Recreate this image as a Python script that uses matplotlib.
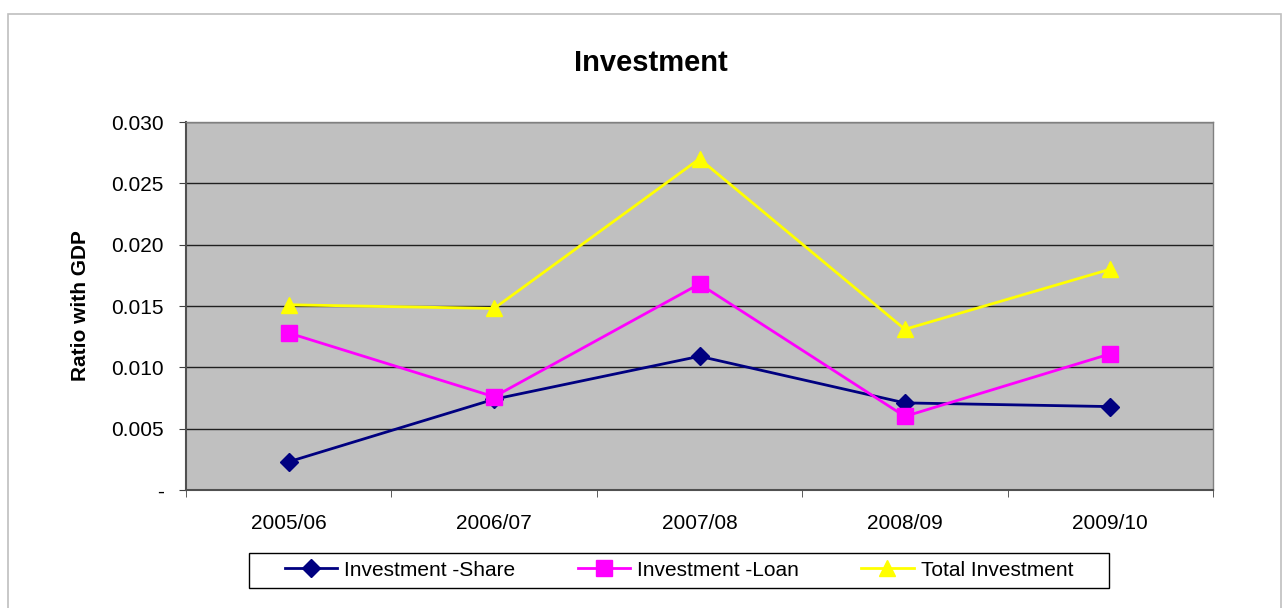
import matplotlib
matplotlib.use("Agg")
import matplotlib.pyplot as plt
from matplotlib.patches import Rectangle
from matplotlib.ticker import FixedLocator, FuncFormatter

categories = ["2005/06", "2006/07", "2007/08", "2008/09", "2009/10"]
share = [0.0023, 0.0074, 0.0109, 0.0071, 0.0068]
loan = [0.0128, 0.0076, 0.0168, 0.0060, 0.0111]
total = [0.0151, 0.0148, 0.0270, 0.0131, 0.0180]

plt.rcParams['font.family'] = ['Liberation Sans', 'DejaVu Sans']

W, H = 1283, 608
fig = plt.figure(figsize=(W/100, H/100), dpi=100)
fig.patches.append(Rectangle((8/W, -0.01), (1281-8)/W, (H-14)/H + 0.01,
                             transform=fig.transFigure, fill=False,
                             edgecolor='#BFBFBF', linewidth=1.2))
ax = fig.add_axes([186/W, 1-490/H, (1213-186)/W, (490-122)/H])
ax.set_facecolor('#C0C0C0')

x = list(range(len(categories)))
ax.plot(x, share, color='#000080', marker='D', markersize=9.5, linewidth=2, label='Investment -Share')
ax.plot(x, loan, color='#FF00FF', marker='s', markersize=11, linewidth=2, label='Investment -Loan')
ax.plot(x, total, color='#FFFF00', marker='^', markersize=12, linewidth=2, label='Total Investment')

ax.set_xlim(-0.5, len(categories) - 0.5)
ax.set_ylim(0, 0.030)
ax.set_yticks([0, 0.005, 0.010, 0.015, 0.020, 0.025, 0.030])
ax.yaxis.set_major_formatter(FuncFormatter(lambda v, p: '-' if abs(v) < 1e-9 else f'{v:.3f}'))
ax.set_xticks(x)
ax.set_xticklabels(categories)
ax.xaxis.set_minor_locator(FixedLocator([i - 0.5 for i in range(len(categories) + 1)]))
ax.tick_params(axis='x', which='major', length=0, pad=17, labelsize=15)
ax.tick_params(axis='x', which='minor', length=5, direction='out', color='#404040')
ax.tick_params(axis='y', length=5, direction='out', labelsize=15, color='#404040', pad=11)
ax.grid(axis='y', color='#202020', linewidth=1)
ax.set_axisbelow(True)
for s in ['left', 'bottom']:
    ax.spines[s].set_color('#505050')
    ax.spines[s].set_linewidth(1.5)
for s in ['top', 'right']:
    ax.spines[s].set_color('#808080')
    ax.spines[s].set_linewidth(1)

ax.set_ylabel('Ratio with GDP', fontsize=15, fontweight='bold', labelpad=15)
fig.text(651/W, 1-63/H, 'Investment', ha='center', va='center', fontsize=21, fontweight='bold')

leg = fig.legend(loc='center', bbox_to_anchor=(679/W, 1-570/H), ncol=3, fontsize=15,
                 frameon=False, handlelength=2.5, columnspacing=3.0,
                 borderpad=0.3, handletextpad=0.35)
fig.patches.append(Rectangle((249/W, 1-588/H), (1109-249)/W, (588-553)/H,
                             transform=fig.transFigure, fill=False,
                             edgecolor='black', linewidth=1))

fig.savefig('out.png', dpi=100)
